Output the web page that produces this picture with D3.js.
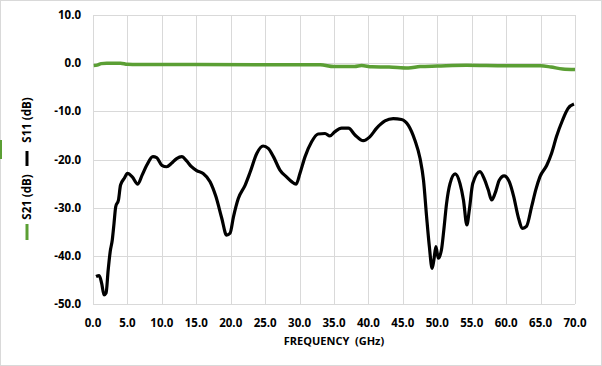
<!DOCTYPE html>
<html>
<head>
<meta charset="utf-8">
<script src="https://cdn.jsdelivr.net/npm/d3@7"></script>
<style>
  body { margin: 0; background: #fff; }
  svg { display: block; font-family: "Open Sans", "Liberation Sans", sans-serif; }
  .grid line { stroke: #d9d9d9; stroke-width: 1; }
  .tick-label { font-size: 11.5px; font-weight: bold; fill: #000; }
</style>
</head>
<body>
<div class="container"></div>
<script>
// frequencies in GHz, values in dB
var s11Freq = [0.44, 0.9, 1.26, 1.6, 1.9, 2.2, 2.5, 2.8, 3.05, 3.3, 3.7, 4.0, 4.55, 5.0, 5.7, 6.5, 7.15, 7.8, 8.7, 9.25,
  10.0, 10.7, 11.4, 12.15, 12.9, 13.6, 14.3, 15.05, 16.0, 17.0, 17.85, 18.7, 19.4, 19.9, 20.4, 21.1, 22.1, 22.8, 23.8, 24.7,
  25.45, 26.2, 27.15, 28.1, 28.85, 29.5, 30.05, 30.8, 31.75, 32.7, 33.7, 34.4, 35.15, 36.1, 37.1, 38.05, 39.25, 40.2, 41.2, 42.4,
  43.6, 44.8, 45.8, 46.75, 47.5, 48.0, 48.45, 48.85, 49.25, 49.5, 49.8, 50.15, 50.6, 50.95, 51.35, 51.85, 52.6, 53.3, 53.8, 54.3,
  54.65, 55.15, 56.2, 56.9, 57.4, 57.9, 58.4, 59.0, 59.7, 60.45, 61.1, 61.75, 62.4, 62.95, 63.7, 64.3, 64.9, 65.9, 66.6, 67.3,
  68.2, 69.0, 69.85];
var s11Values = [-44.3, -44.1, -45.7, -48.1, -47.7, -43.0, -39.1, -36.7, -33.3, -29.8, -28.4, -25.3, -23.9, -22.9, -23.6, -25.1, -23.2, -21.2, -19.4, -19.6,
  -21.2, -21.5, -20.8, -19.8, -19.4, -20.3, -21.5, -22.3, -22.9, -24.6, -27.7, -32.2, -35.7, -35.3, -31.9, -28.1, -25.3, -22.7, -18.7, -17.2,
  -17.7, -19.4, -22.2, -23.6, -24.6, -25.1, -22.9, -19.4, -16.3, -14.7, -14.6, -15.1, -14.2, -13.5, -13.5, -14.9, -16.1, -15.3, -13.5, -12.0,
  -11.5, -11.7, -12.9, -16.0, -19.8, -24.3, -31.9, -38.1, -42.6, -40.9, -38.1, -40.5, -38.8, -34.6, -29.1, -25.0, -23.0, -25.0, -28.4, -33.6,
  -30.5, -25.0, -22.5, -24.3, -26.3, -28.4, -27.0, -24.3, -23.4, -24.6, -27.7, -31.9, -34.3, -33.9, -29.8, -26.3, -23.6, -21.2, -18.7, -15.3,
  -11.8, -9.4, -8.5];

var s21Freq = [0.1, 0.6, 1.2, 2.0, 4.0, 5.0, 6.5, 8.0, 15.0, 25.0, 33.0, 35.0, 38.0, 39.0, 40.5, 43.0, 45.8, 47.5, 50.0, 54.2, 60.0, 65.0, 66.5, 68.2, 70.0];
var s21Values = [-0.5, -0.4, -0.1, 0.0, 0.0, -0.25, -0.3, -0.3, -0.3, -0.35, -0.35, -0.7, -0.7, -0.5, -0.75, -0.8, -1.0, -0.7, -0.6, -0.45, -0.55, -0.55, -0.8, -1.2, -1.3];

var xTicks = [0, 5, 10, 15, 20, 25, 30, 35, 40, 45, 50, 55, 60, 65, 70];
var yTicks = [10, 0, -10, -20, -30, -40, -50];

const WIDTH = 602;
const HEIGHT = 366;
const LEFT = 93, RIGHT = 575, TOP = 15, BOTTOM = 304;

var svg = d3.select('.container').append('svg')
  .attr('width', WIDTH)
  .attr('height', HEIGHT);

svg.append('rect')
  .attr('x', 0.5).attr('y', 0.5)
  .attr('width', WIDTH - 1).attr('height', HEIGHT - 1)
  .attr('fill', '#fff')
  .attr('stroke', '#d9d9d9');

var xScale = d3.scaleLinear().domain([0, 70]).range([LEFT, RIGHT]);
var yScale = d3.scaleLinear().domain([-50, 10]).range([BOTTOM, TOP]);

// gridlines
var grid = svg.append('g').classed('grid', true);
grid.selectAll('.v').data(xTicks).enter().append('line')
  .attr('x1', function (d) { return Math.round(xScale(d)) + 0.5; })
  .attr('x2', function (d) { return Math.round(xScale(d)) + 0.5; })
  .attr('y1', TOP).attr('y2', BOTTOM);
grid.selectAll('.h').data(yTicks).enter().append('line')
  .attr('x1', LEFT).attr('x2', RIGHT)
  .attr('y1', function (d) { return Math.round(yScale(d)) + 0.5; })
  .attr('y2', function (d) { return Math.round(yScale(d)) + 0.5; });

// tick labels
svg.append('g').selectAll('text').data(yTicks).enter().append('text')
  .classed('tick-label', true)
  .attr('x', 81)
  .attr('y', function (d) { return yScale(d); })
  .attr('dy', '0.35em')
  .attr('text-anchor', 'end')
  .text(function (d) { return d.toFixed(1); });

svg.append('g').selectAll('text').data(xTicks).enter().append('text')
  .classed('tick-label', true)
  .attr('x', function (d) { return xScale(d); })
  .attr('y', 323)
  .attr('dy', '0.35em')
  .attr('text-anchor', 'middle')
  .text(function (d) { return d.toFixed(1); });

svg.append('text')
  .attr('x', (LEFT + RIGHT) / 2)
  .attr('y', 341)
  .attr('dy', '0.35em')
  .attr('text-anchor', 'middle')
  .style('font-size', '11px')
  .style('font-weight', 'bold')
  .style('white-space', 'pre')
  .text('FREQUENCY  (GHz)');

// lines
var line = d3.line()
  .x(function (d) { return xScale(d[0]); })
  .y(function (d) { return yScale(d[1]); })
  .curve(d3.curveMonotoneX);

svg.append('path')
  .attr('d', line(d3.zip(s21Freq, s21Values)))
  .attr('fill', 'none')
  .attr('stroke', '#5b9f34')
  .attr('stroke-width', 3.5)
  .attr('stroke-linejoin', 'round');

svg.append('path')
  .attr('d', line(d3.zip(s11Freq, s11Values)))
  .attr('fill', 'none')
  .attr('stroke', '#000')
  .attr('stroke-width', 3.2)
  .attr('stroke-linejoin', 'round');

// legend (rotated)
var legend = svg.append('g').attr('transform', 'translate(27,0) rotate(-90)');
legend.append('line')
  .attr('x1', -240).attr('x2', -224).attr('y1', 0).attr('y2', 0)
  .attr('stroke', '#5b9f34').attr('stroke-width', 3);
legend.append('text')
  .attr('x', -197).attr('y', 0).attr('dy', '0.35em')
  .attr('text-anchor', 'middle')
  .style('font-size', '11.5px').style('font-weight', 'bold')
  .text('S21 (dB)');
legend.append('line')
  .attr('x1', -166).attr('x2', -151).attr('y1', 0).attr('y2', 0)
  .attr('stroke', '#000').attr('stroke-width', 3);
legend.append('text')
  .attr('x', -120).attr('y', 0).attr('dy', '0.35em')
  .attr('text-anchor', 'middle')
  .style('font-size', '11.5px').style('font-weight', 'bold')
  .text('S11 (dB)');

// cut-off swatch at the left edge
svg.append('rect')
  .attr('x', 0).attr('y', 140).attr('width', 2).attr('height', 19)
  .attr('fill', '#5b9f34');
</script>
</body>
</html>
